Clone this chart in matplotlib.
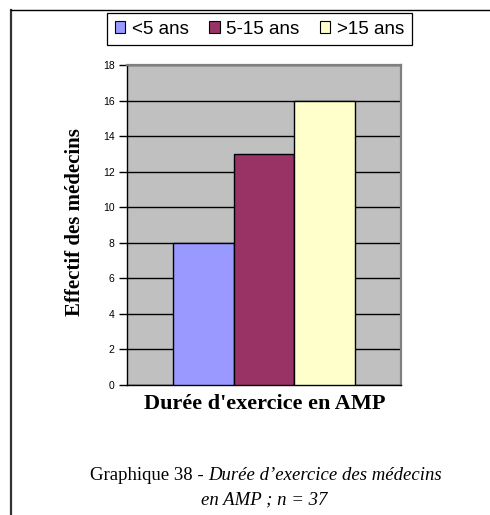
import matplotlib
matplotlib.use("Agg")
import matplotlib.pyplot as plt
from matplotlib.lines import Line2D
import numpy as np

# Data: number of physicians by years of practice in AMP (n = 37)
groupes = ["<5 ans", "5-15 ans", ">15 ans"]
effectifs = [8, 13, 16]
couleurs = ["#9999FF", "#993366", "#FFFFCC"]
yticks = list(range(0, 19, 2))

W, H = 490, 515
fig = plt.figure(figsize=(W / 100, H / 100), dpi=100)
fig.patch.set_facecolor("white")

# Plot area in pixel terms
x0, x1, y0, y1 = 127, 401, 65, 385
ax = fig.add_axes([x0 / W, 1 - y1 / H, (x1 - x0) / W, (y1 - y0) / H])
ax.set_facecolor("#C0C0C0")

width = 1.0
pos = (np.arange(len(effectifs)) - (len(effectifs) - 1) / 2) * width
ax.bar(pos, effectifs, width=width, color=couleurs, edgecolor="black",
       linewidth=1.0, zorder=3)
ax.set_xlim(-2.26, 2.26)
ax.set_ylim(0, 18)
ax.set_yticks(yticks)
ax.set_yticklabels([str(t) for t in yticks], fontsize=7.5, family="Liberation Sans")
ax.set_xticks([])
ax.yaxis.grid(True, color="black", linewidth=1.0, zorder=1)
ax.set_axisbelow(True)
ax.tick_params(axis="y", direction="out", length=6, width=1, pad=3, color="black")

for side in ("top", "right"):
    ax.spines[side].set_color("#808080")
    ax.spines[side].set_linewidth(1.6)
for side in ("left", "bottom"):
    ax.spines[side].set_color("black")
    ax.spines[side].set_linewidth(1.0)

# Axis titles
fig.text(75 / W, 1 - 222 / H, "Effectif des médecins", rotation=90,
         ha="center", va="center", fontsize=15, fontweight="bold",
         family="Liberation Serif")
fig.text(265 / W, 1 - 404 / H, "Durée d'exercice en AMP",
         ha="center", va="center", fontsize=16, fontweight="bold",
         family="Liberation Serif")

# Legend across the top
handles = [plt.Rectangle((0, 0), 1, 1, facecolor=c, edgecolor="black", linewidth=0.8)
           for c in couleurs]
leg = fig.legend(handles, groupes, loc="center",
                 bbox_to_anchor=(259.5 / W, 1 - 29 / H), ncol=3,
                 prop={"family": "Liberation Sans", "size": 13.5},
                 handlelength=0.55, handleheight=0.55, handletextpad=0.35,
                 columnspacing=1.1, borderpad=0.4, fancybox=False,
                 frameon=True, edgecolor="black", framealpha=1)
leg.get_frame().set_linewidth(0.9)

# Caption
cap_font = {"family": "Liberation Serif", "size": 13.5}
t1 = fig.text(0, 1 - 475 / H, "Graphique 38 - ", ha="left", va="center", **cap_font)
t2 = fig.text(0, 1 - 475 / H, "Durée d’exercice des médecins", ha="left", va="center",
              style="italic", **cap_font)
fig.text(264 / W, 1 - 500 / H, "en AMP ; n = 37", ha="center", va="center",
         style="italic", **cap_font)

# Center the first caption line as a whole
fig.canvas.draw()
r = fig.canvas.get_renderer()
w1 = t1.get_window_extent(r).width
w2 = t2.get_window_extent(r).width
start = 266 - (w1 + w2) / 2
t1.set_x(start / W)
t2.set_x((start + w1) / W)

# Page frame lines (left and top)
fig.add_artist(Line2D([11 / W, 11 / W], [0, 1 - 10 / H], transform=fig.transFigure,
                      color="#333333", linewidth=1.6))
fig.add_artist(Line2D([11 / W, 1], [1 - 10 / H, 1 - 10 / H], transform=fig.transFigure,
                      color="black", linewidth=1.0))

fig.savefig("out.png", dpi=100)
